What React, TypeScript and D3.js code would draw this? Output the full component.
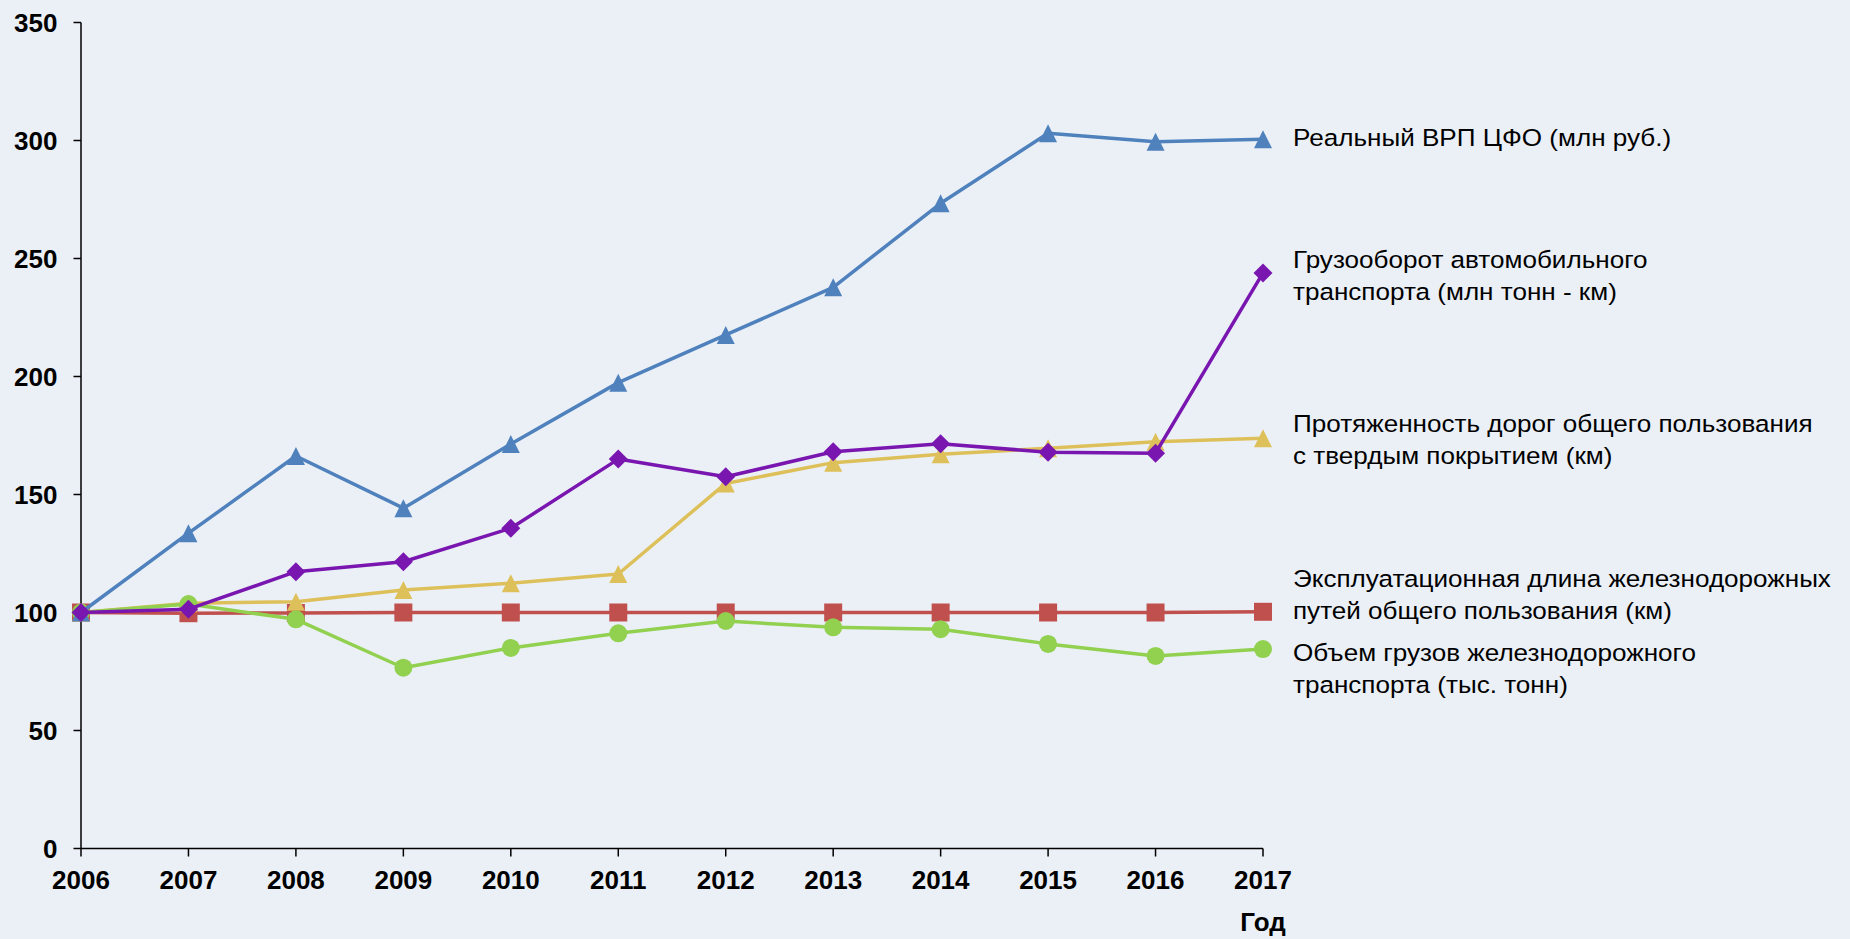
import React from "react";
import * as d3 from "d3";

const years = [2006, 2007, 2008, 2009, 2010, 2011, 2012, 2013, 2014, 2015, 2016, 2017];
const yTicks = [0, 50, 100, 150, 200, 250, 300, 350];

const grpBlue = [100, 133.6, 166.3, 144.2, 171.4, 197.4, 217.6, 237.8, 273.4, 303.1, 299.5, 300.5];
const cargoAuto = [100, 101.4, 117.3, 121.5, 135.7, 165.0, 157.5, 168.1, 171.5, 167.9, 167.5, 243.9];
const roads = [100, 103.9, 104.6, 109.5, 112.4, 116.3, 154.7, 163.5, 167.1, 169.6, 172.4, 173.8];
const railLength = [100, 99.7, 99.8, 100, 100, 100, 100, 100, 100, 100, 100, 100.3];
const railCargo = [100, 103.6, 97.1, 76.6, 85.0, 91.2, 96.4, 93.7, 92.9, 86.7, 81.6, 84.5];

const labelBlue = ["Реальный ВРП ЦФО (млн руб.)"];
const labelAuto = ["Грузооборот автомобильного", "транспорта (млн тонн - км)"];
const labelRoads = ["Протяженность дорог общего пользования", "с твердым покрытием (км)"];
const labelRailLen = ["Эксплуатационная длина железнодорожных", "путей общего пользования (км)"];
const labelRailCargo = ["Объем грузов железнодорожного", "транспорта (тыс. тонн)"];

const W = 1850;
const H = 939;
const FONT = "'Liberation Sans', Arial, sans-serif";

// custom box triangle symbol (Excel-like)
const boxTriangle = {
  draw(ctx: any, size: number) {
    const s = Math.sqrt(size);
    const h = s / 2;
    ctx.moveTo(0, -h);
    ctx.lineTo(h, h);
    ctx.lineTo(-h, h);
    ctx.closePath();
  },
};
const diamond = {
  draw(ctx: any, size: number) {
    const h = Math.sqrt(size) / 2;
    ctx.moveTo(0, -h);
    ctx.lineTo(h, 0);
    ctx.lineTo(0, h);
    ctx.lineTo(-h, 0);
    ctx.closePath();
  },
};

type Series = {
  key: string;
  values: number[];
  color: string;
  symbol: any;
  size: number;
  label: string[];
  labelY: number; // baseline of first line
};

const series: Series[] = [
  { key: "railLen", values: railLength, color: "#C0504D", symbol: d3.symbolSquare, size: 18 * 18, label: labelRailLen, labelY: 587 },
  { key: "roads", values: roads, color: "#DEC05A", symbol: boxTriangle, size: 18 * 18, label: labelRoads, labelY: 432 },
  { key: "railCargo", values: railCargo, color: "#92D050", symbol: d3.symbolCircle, size: Math.PI * 9 * 9, label: labelRailCargo, labelY: 661 },
  { key: "grp", values: grpBlue, color: "#4F81BD", symbol: boxTriangle, size: 18 * 18, label: labelBlue, labelY: 146 },
  { key: "auto", values: cargoAuto, color: "#7A16B0", symbol: diamond, size: 19 * 19, label: labelAuto, labelY: 268 },
];

export default function App() {
  const x = d3.scaleLinear().domain([2006, 2017]).range([81, 1263]);
  const y = d3.scaleLinear().domain([0, 350]).range([848.5, 22.5]);
  const line = d3
    .line<number>()
    .x((_, i) => x(years[i]))
    .y((d) => y(d));

  const lineH = 32;
  const labelX = 1293;

  return (
    <svg
      width={W}
      height={H}
      style={{ position: "absolute", left: 0, top: 0, display: "block" }}
      fontFamily={FONT}
    >
      <rect x={0} y={0} width={W} height={H} fill="#EBF0F7" />

      {/* axes */}
      <line x1={x(2006)} x2={x(2006)} y1={y(350)} y2={y(0)} stroke="#000" strokeWidth={1.5} />
      <line x1={x(2006)} x2={x(2017)} y1={y(0)} y2={y(0)} stroke="#000" strokeWidth={1.5} />
      {yTicks.map((t) => (
        <g key={"yt" + t}>
          <line x1={x(2006) - 7.5} x2={x(2006)} y1={y(t)} y2={y(t)} stroke="#000" strokeWidth={1.5} />
          <text
            x={57.5}
            y={y(t)}
            dy="0.35em"
            textAnchor="end"
            fontSize={26}
            fontWeight="bold"
            fill="#000"
          >
            {t}
          </text>
        </g>
      ))}
      {years.map((yr) => (
        <g key={"xt" + yr}>
          <line x1={x(yr)} x2={x(yr)} y1={y(0)} y2={y(0) + 8} stroke="#000" strokeWidth={1.5} />
          <text x={x(yr)} y={889} textAnchor="middle" fontSize={26} fontWeight="bold" fill="#000">
            {yr}
          </text>
        </g>
      ))}
      <text x={x(2017)} y={931} textAnchor="middle" fontSize={26} fontWeight="bold" fill="#000">
        Год
      </text>

      {/* series */}
      {series.map((s) => (
        <g key={s.key}>
          <path d={line(s.values) || ""} fill="none" stroke={s.color} strokeWidth={3.5} strokeLinejoin="round" />
          {s.values.map((v, i) => (
            <path
              key={i}
              d={d3.symbol().type(s.symbol).size(s.size)() || ""}
              transform={`translate(${x(years[i])},${y(v)})`}
              fill={s.color}
            />
          ))}
        </g>
      ))}

      {/* end labels */}
      {series.map((s) => (
        <g key={"lbl" + s.key}>
          {s.label.map((l, i) => (
            <text
              key={i}
              transform={`translate(${labelX},${s.labelY + i * lineH}) scale(1.11,1)`}
              fontSize={23.5}
              fill="#000"
            >
              {l}
            </text>
          ))}
        </g>
      ))}
    </svg>
  );
}
